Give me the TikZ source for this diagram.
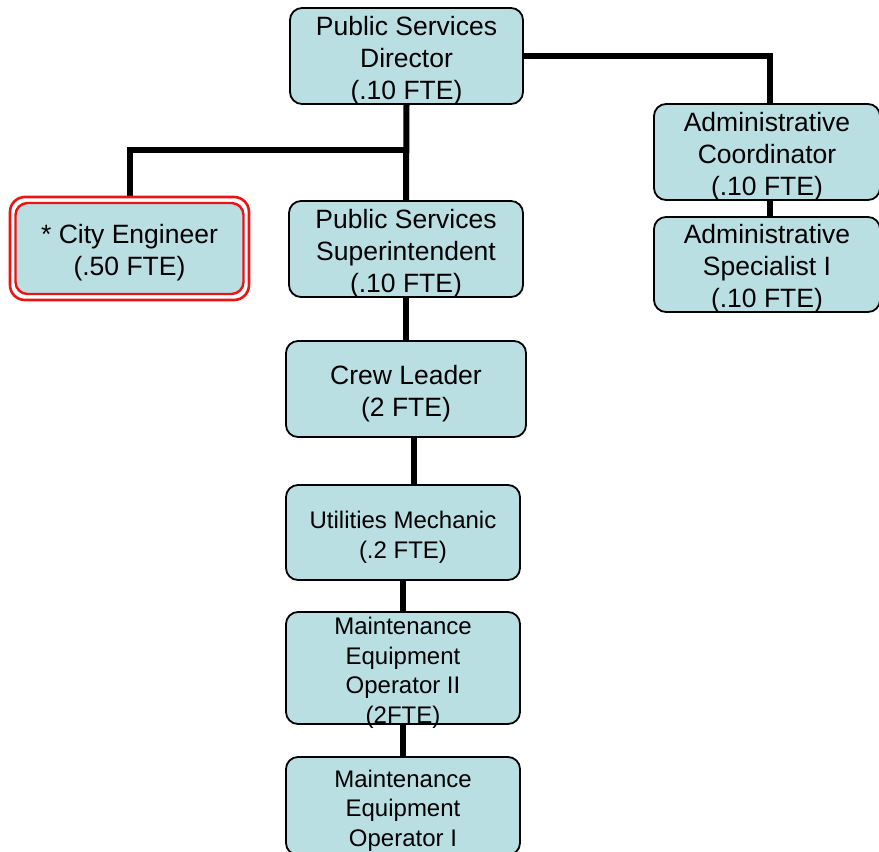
\documentclass[tikz,border=0pt]{standalone}
\usepackage{fontspec}
\setmainfont{Liberation Sans}
\definecolor{boxfill}{RGB}{185,223,227}
\definecolor{engred}{RGB}{235,20,20}
\pgfdeclarelayer{background}
\pgfsetlayers{background,main}
% centred stack of lines, set a little below the box centre
\newcommand{\boxlines}[1]{\raisebox{-5pt}[\dimexpr\height-4pt\relax][\dimexpr\depth-4pt\relax]{\begin{tabular}{@{}c@{}}#1\end{tabular}}}
\begin{document}
\begin{tikzpicture}[x=1pt,y=-1pt,
  orgbox/.style={draw=black, line width=1.8pt, fill=boxfill, rounded corners=12pt,
    inner sep=0pt, align=center, font=\fontsize{26.5}{32}\selectfont},
  smallbox/.style={orgbox, font=\fontsize{24}{29.5}\selectfont},
  link/.style={draw=black, line width=6pt}]
\useasboundingbox (0,0) rectangle (879,852);

% boxes
\node[orgbox, minimum width=233pt, minimum height=96pt] (dir) at (406.5,56) {\boxlines{Public Services\\Director\\(.10 FTE)}};
\node[orgbox, minimum width=226pt, minimum height=96pt] (coord) at (767,152) {\boxlines{Administrative\\Coordinator\\(.10 FTE)}};
\node[orgbox, minimum width=226pt, minimum height=95pt] (spec) at (767,264.5) {\boxlines{Administrative\\Specialist I\\(.10 FTE)}};
\node[orgbox, minimum width=234pt, minimum height=96pt] (sup) at (406,249) {\boxlines{Public Services\\Superintendent\\(.10 FTE)}};
\node[orgbox, minimum width=240pt, minimum height=96pt] (crew) at (406,389) {\boxlines{Crew Leader\\(2 FTE)}};
\node[smallbox, minimum width=234pt, minimum height=95pt] (util) at (403,532.5) {\boxlines{Utilities Mechanic\\(.2 FTE)}};
\node[smallbox, minimum width=234pt, minimum height=112pt] (meotwo) at (403,668) {\boxlines{Maintenance\\Equipment\\Operator II\\(2FTE)}};
\node[smallbox, minimum width=234pt, minimum height=98pt] (meoone) at (403,806) {\boxlines{Maintenance\\Equipment\\Operator I}};

% city engineer with red double outline
\node[draw=engred, line width=2.6pt, fill=white, rounded corners=15pt, inner sep=0pt,
  minimum width=239pt, minimum height=103pt] (engframe) at (129.5,248.5) {};
\node[orgbox, draw=engred, line width=2.4pt, minimum width=228pt, minimum height=91pt] (eng) at (129.5,248.5) {\boxlines{* City Engineer\\(.50 FTE)}};

% connectors, kept behind the boxes
\begin{pgfonlayer}{background}
\coordinate (split) at (406,150);
\draw[link] (dir.south) -- (sup.north);
\draw[link] (split) -| (engframe.north);
\draw[link] (dir.east) -| ([xshift=3pt]coord.north);
\draw[link] ([xshift=3pt]coord.south) -- ([xshift=3pt]spec.north);
\draw[link] (sup.south) -- (crew.north);
\draw[link] ([xshift=8pt]crew.south) -- ([xshift=8pt]crew.south |- util.north);
\draw[link] (util.south) -- (meotwo.north);
\draw[link] (meotwo.south) -- (meoone.north);
\end{pgfonlayer}
\end{tikzpicture}
\end{document}
